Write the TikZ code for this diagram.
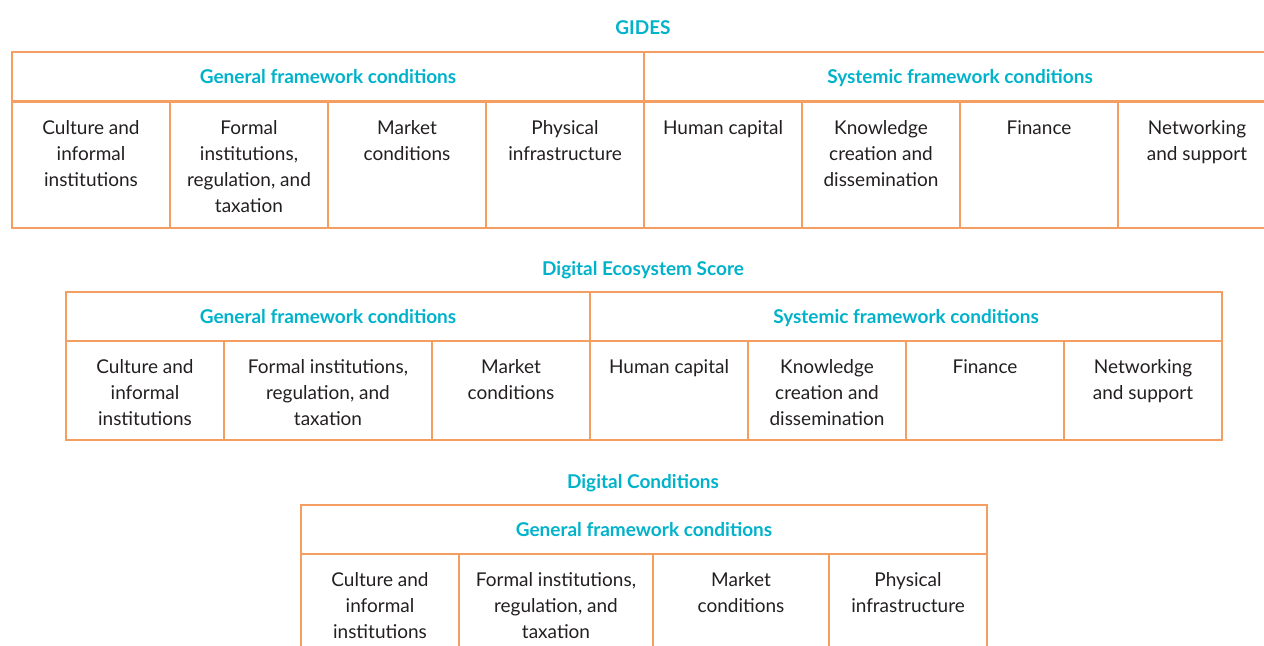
\documentclass[tikz,border=0pt]{standalone}
\usepackage{fontspec}
\setmainfont{Lato}
\usepackage{tikz}
\usetikzlibrary{positioning}
\definecolor{frameOrange}{RGB}{245,158,98}
\definecolor{headTeal}{RGB}{0,178,202}
\definecolor{bodyGray}{RGB}{35,31,32}

\begin{document}
\begin{tikzpicture}[
  x=0.5pt, y=-0.5pt,
  font=\fontsize{9.5}{13}\selectfont,
  title/.style={text=headTeal, font=\fontsize{9.5}{13}\selectfont\bfseries, inner sep=0pt,
                text height=0.8em, text depth=0.05em},
  head/.style={draw=frameOrange, line width=1pt, anchor=north west, inner sep=0pt,
               minimum height=24.5pt, text height=0.8em, text depth=0.05em,
               text=headTeal, font=\fontsize{9.5}{13}\selectfont\bfseries},
  cell/.style={draw=frameOrange, line width=1pt, anchor=north west, inner sep=0pt},
  txt/.style={align=center, text=bodyGray, inner sep=0pt}
]
\useasboundingbox (0,0) rectangle (1264,646);
\clip (0,0) rectangle (1264,646);

% GIDES
\node[title] (gides) at (643,27) {GIDES};
\node[head, minimum width=316pt] (gidesGen) at (11,51) {General framework conditions};
\node[head, minimum width=316pt] (gidesSys) at (643,51) {Systemic framework conditions};

\node[cell, minimum width=79pt, minimum height=63pt] (gA) at (11,101) {};
\node[cell, minimum width=79pt, minimum height=63pt] (gB) at (169,101) {};
\node[cell, minimum width=79pt, minimum height=63pt] (gC) at (327,101) {};
\node[cell, minimum width=79pt, minimum height=63pt] (gD) at (485,101) {};
\node[cell, minimum width=79pt, minimum height=63pt] (gE) at (643,101) {};
\node[cell, minimum width=79pt, minimum height=63pt] (gF) at (801,101) {};
\node[cell, minimum width=79pt, minimum height=63pt] (gG) at (959,101) {};
\node[cell, minimum width=79pt, minimum height=63pt] (gH) at (1117,101) {};

\node[txt, below=9.5pt of gA.north] {Culture and\\informal\\institutions};
\node[txt, below=9.5pt of gB.north] {Formal\\institutions,\\regulation, and\\taxation};
\node[txt, below=9.5pt of gC.north] {Market\\conditions};
\node[txt, below=9.5pt of gD.north] {Physical\\infrastructure};
\node[txt, below=9.5pt of gE.north] {Human capital};
\node[txt, below=9.5pt of gF.north] {Knowledge\\creation and\\dissemination};
\node[txt, below=9.5pt of gG.north] {Finance};
\node[txt, below=9.5pt of gH.north] {Networking\\and support};

% Digital Ecosystem Score
\node[title] (des) at (643,268) {Digital Ecosystem Score};
\node[head, minimum width=262pt] (desGen) at (65,291) {General framework conditions};
\node[head, minimum width=316pt] (desSys) at (589,291) {Systemic framework conditions};

\node[cell, minimum width=79pt, minimum height=49.5pt] (eA) at (65,340) {};
\node[cell, minimum width=104pt, minimum height=49.5pt] (eB) at (223,340) {};
\node[cell, minimum width=79pt, minimum height=49.5pt] (eC) at (431,340) {};
\node[cell, minimum width=79pt, minimum height=49.5pt] (eD) at (589,340) {};
\node[cell, minimum width=79pt, minimum height=49.5pt] (eE) at (747,340) {};
\node[cell, minimum width=79pt, minimum height=49.5pt] (eF) at (905,340) {};
\node[cell, minimum width=79pt, minimum height=49.5pt] (eG) at (1063,340) {};

\node[txt, below=9.5pt of eA.north] {Culture and\\informal\\institutions};
\node[txt, below=9.5pt of eB.north] {Formal institutions,\\regulation, and\\taxation};
\node[txt, below=9.5pt of eC.north] {Market\\conditions};
\node[txt, below=9.5pt of eD.north] {Human capital};
\node[txt, below=9.5pt of eE.north] {Knowledge\\creation and\\dissemination};
\node[txt, below=9.5pt of eF.north] {Finance};
\node[txt, below=9.5pt of eG.north] {Networking\\and support};

% Digital Conditions
\node[title] (dc) at (643,481) {Digital Conditions};
\node[head, minimum width=343pt] (dcGen) at (300,504) {General framework conditions};

\node[cell, minimum width=79pt, minimum height=63pt] (cA) at (300,553) {};
\node[cell, minimum width=97pt, minimum height=63pt] (cB) at (458,553) {};
\node[cell, minimum width=88pt, minimum height=63pt] (cC) at (652,553) {};
\node[cell, minimum width=79pt, minimum height=63pt] (cD) at (828,553) {};

\node[txt, below=9.5pt of cA.north] {Culture and\\informal\\institutions};
\node[txt, below=9.5pt of cB.north] {Formal institutions,\\regulation, and\\taxation};
\node[txt, below=9.5pt of cC.north] {Market\\conditions};
\node[txt, below=9.5pt of cD.north] {Physical\\infrastructure};

\end{tikzpicture}
\end{document}
